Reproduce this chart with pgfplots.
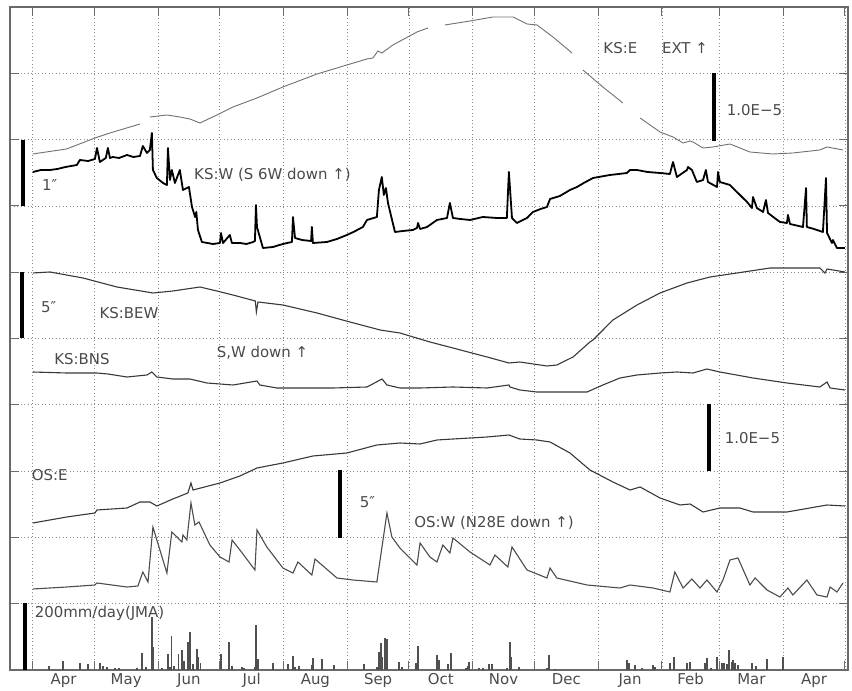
\documentclass[border=0pt]{standalone}
\usepackage{pgfplots}
\pgfplotsset{compat=1.18}
\usepackage{fontspec}
\setmainfont{DejaVu Sans}
\definecolor{txt}{HTML}{4A4A4A}
\definecolor{frame}{HTML}{6A6A6A}
\definecolor{gridc}{HTML}{8A8A8A}
\definecolor{kse}{HTML}{707070}
\definecolor{dk}{HTML}{383838}
\definecolor{osw}{HTML}{4C4C4C}
\definecolor{rain}{HTML}{505050}
\tikzset{lab/.style={anchor=west, inner sep=1bp, text=txt, font=\fontsize{15}{17}\selectfont}}

\begin{document}
\begin{tikzpicture}
% x: days since 1 Apr; y: trace offset (one grid division = 66.3)
\begin{axis}[
  scale only axis,
  width=838bp, height=663bp,
  xmin=-11, xmax=396.5,
  ymin=0, ymax=663,
  axis line style={frame, line width=1.3bp},
  xtick={0,30,61,91,122,153,183,214,244,275,306,334,365,395},
  xticklabels={},
  ytick={0,66.3,132.6,198.9,265.2,331.5,397.8,464.1,530.4,596.7,663},
  yticklabels={},
  major tick length=9bp,
  tick style={frame, line width=1bp},
  grid=major,
  major grid style={gridc, line width=0.7bp, dash pattern=on 0.9bp off 2.6bp},
  extra x ticks={15,45.5,76,106.5,137.5,168,198.5,229,259.5,290.5,320,349.5,380},
  extra x tick labels={Apr,May,Jun,Jul,Aug,Sep,Oct,Nov,Dec,Jan,Feb,Mar,Apr},
  extra x tick style={grid=none, major tick length=0pt,
    tick label style={font=\fontsize{15}{17}\selectfont, text=txt}},
  unbounded coords=jump,
  clip=false,
]
\coordinate (bl) at (rel axis cs:0,0);
\coordinate (tr) at (rel axis cs:1,1);

% KS:E (EXT)
\addplot[kse, line width=0.9bp] coordinates {
(0,516) (16.5,521) (30.3,532) (37.6,537) (52.2,546) (53.5,nan)
(57.0,553) (65.3,555) (71.6,553) (76.5,551) (81.4,547) (89.6,555)
(97.4,563) (109.1,572) (121.7,583) (138.3,596) (152.8,605) (162.6,611)
(165.5,612) (167.9,619) (169.8,617) (175.2,625) (186.9,638) (192.2,642) (196,nan)
(200.5,645) (212.7,649) (223.9,653) (233.6,653) (240.4,646) (245.3,645)
(253.0,633) (262.3,617) (265,nan)
(267.6,600) (277.3,583) (287.0,567) (290,nan)
(295.4,552) (305.1,538) (311.4,533) (316.3,527) (319.7,529) (321.1,528)
(326.0,522) (330.8,523) (339.1,526) (348.8,518) (360.0,516) (369.7,517)
(382.8,520) (386.3,523) (394.1,520)
};

% KS:W
\addplot[black, line width=1.8bp, line join=round] coordinates {
(0.1,498) (4,500) (8.4,500) (12,501) (16,503) (21.5,505) (23.0,510) (27,509) (30.3,511) (31.3,522) (32.7,508)
(35.6,512) (36.6,522) (37.6,512) (39.0,513) (42,512) (45.9,515) (49,513) (52.2,514) (53.6,524)
(55.6,517) (57.0,520) (58.0,537) (58.5,500) (60.4,492) (63.4,487) (65.3,485)
(65.8,522) (66.8,490) (67.7,500) (69.2,487) (71.6,500) (73.1,480) (76.0,483)
(77.5,463) (79.0,453) (79.6,458) (80.4,440) (82.3,428) (85,427) (87.7,426) (91.1,427)
(91.6,437) (92.6,427) (95.9,435) (96.9,427) (100.8,427) (104,426) (107.2,428) (108.1,429)
(108.6,465) (109.1,443) (112.0,422) (116.9,423) (120,425) (123.7,427) (126.1,428)
(126.6,453) (127.6,432) (131,430) (135.4,429) (135.8,443) (136.3,427) (143.1,428)
(148,431) (152.8,435) (156,438) (160.6,443) (162.6,450) (167.4,453) (168.4,480) (169.8,493)
(170.8,475) (171.8,482) (172.8,467) (176.2,438) (180,439) (184.9,440) (186.9,442)
(187.4,447) (188.4,441) (191.8,443) (196.6,450) (201.5,452) (202.9,467)
(204.4,452) (208,451) (212.7,450) (218.9,453) (225.8,452) (230.6,452) (231.6,498)
(233.1,452) (235.5,447) (240.4,452) (243.3,458) (247,461) (250.1,463) (251.6,471)
(256.4,474) (261.3,480) (264.7,483) (268,487) (272.5,492) (280.7,495) (285,496) (289.0,497)
(290.5,500) (293.9,500) (299,498) (305.1,497) (309.9,496) (311.4,508) (313.3,493)
(318.2,500) (318.7,503) (320.6,500) (323.0,488) (326.0,490) (327.4,500)
(328.4,488) (332.8,483) (333.3,498) (334.2,488) (339.1,485) (342.5,478)
(347.4,468) (349.8,462) (350.3,473) (352.2,462) (355.2,458) (356.6,470)
(357.6,457) (363.4,448) (366.8,447) (367.3,455) (368.3,446) (374.6,443)
(376.1,482) (376.5,443) (380,441) (384.3,438) (385.8,492) (386.3,437) (388.7,427)
(389.2,430) (391.1,422) (395.0,422)
};

% KS:BEW
\addplot[dk, line width=1.1bp] coordinates {
(0.1,397) (8.4,398) (24.5,392) (41.0,383) (58.5,377) (68.2,379) (81.4,383)
(89.6,379) (97.4,375) (108.3,369) (108.8,358) (109.6,368) (121.7,365)
(138.3,357) (154.3,348) (169.0,340) (178.6,337) (193.2,328) (204.4,322)
(221.0,313) (231.6,307) (236.9,308) (250.1,304) (254.9,305) (262.8,313)
(271.0,328) (272.5,330) (282.2,350) (293.9,365) (305.1,377) (318.2,387)
(329.4,393) (342.5,397) (358.6,402) (366.8,402) (382.8,402) (385.3,397)
(386.3,401) (395.0,398)
};

% KS:BNS
\addplot[dk, line width=1.1bp] coordinates {
(0.1,298) (16.6,297) (31.3,297) (36.6,296) (45.9,293) (55.6,295) (58.0,298)
(60.4,293) (68.2,291) (76.5,291) (84.8,287) (97.4,285) (109.1,289) (110.5,285)
(118.8,282) (130.0,282) (146.1,282) (162.6,283) (169.9,291) (172.3,285)
(178.6,282) (188.4,282) (204.4,283) (221.0,282) (231.6,285) (232.1,283)
(236.9,280) (245.2,278) (261.3,278) (269.6,278) (277.3,285) (285.6,292)
(293.9,295) (305.1,297) (313.3,298) (321.1,297) (327.9,301) (334.2,298)
(350.3,292) (366.8,287) (382.8,283) (386.3,288) (387.8,282) (395.0,280)
};

% OS:E
\addplot[dk, line width=1.1bp] coordinates {
(0.1,147) (16.6,153) (30.3,157) (31.3,160) (45.9,162) (52.2,168) (57.0,168)
(60.4,164) (68.2,171) (75.5,177) (77.0,187) (78.0,180) (91.1,187) (100.8,194)
(109.1,202) (121.7,207) (136.3,214) (152.8,217) (167.4,225) (178.6,227)
(188.4,226) (196.6,230) (204.4,231) (221.0,233) (231.6,235) (236.9,231)
(245.2,230) (251.6,228) (261.3,217) (271.0,200) (282.2,188) (290.5,180)
(295.4,183) (305.1,172) (314.8,165) (319.7,166) (326.0,158) (334.2,162)
(343.9,162) (350.3,158) (366.8,158) (386.3,165) (395.0,164)
};

% OS:W
\addplot[osw, line width=1.1bp] coordinates {
(0.1,81) (16.6,83) (30.3,85) (31.3,87) (45.9,83) (51.2,84) (53.6,98) (56.1,88)
(58.5,143) (65.3,97) (67.7,138) (70.2,133) (72.6,128) (73.1,135) (75.0,130)
(77.0,167) (78.9,145) (80.9,148) (86.2,125) (91.1,113) (95.5,108) (97.0,130)
(100.8,120) (108.1,100) (109.1,140) (113.9,123) (121.7,102) (126.6,97)
(129.0,108) (135.8,95) (137.3,111) (148.0,92) (155.8,90) (167.4,88)
(172.3,157) (174.7,133) (178.6,122) (186.9,105) (188.4,127) (193.2,113)
(196.6,108) (199.5,125) (202.9,117) (204.4,132) (212.7,118) (222.4,105)
(224.8,115) (231.1,103) (233.1,123) (240.4,100) (250.1,92) (251.6,102)
(254.9,92) (269.6,85) (285.6,82) (290.5,85) (301.7,82) (309.9,78) (312.3,98)
(316.3,82) (320.6,91) (324.5,82) (327.9,90) (332.8,78) (335.7,90) (339.1,110)
(343.0,112) (348.8,85) (351.3,92) (357.1,80) (363.4,73) (367.3,82) (369.7,75)
(376.5,90) (381.4,75) (386.3,73) (387.8,83) (391.1,78) (394.1,87)
};

% daily rainfall (JMA)
\addplot[rain, ycomb, line width=1.3bp] coordinates {
(7.9,4) (14.7,9) (23.0,7) (26.9,6) (32.7,7) (34.2,4) (36.1,3) (40.0,2) (42.0,2)
(50.7,2) (53.2,17) (55.1,3) (58.0,53) (58.6,23) (62.9,2) (65.8,16) (66.8,3)
(67.7,34) (68.7,4) (71.1,16) (72.6,20) (73.6,9) (75.5,28) (76.5,38) (78.0,6)
(79.9,21) (80.5,13) (81.8,7) (91.6,16) (95.5,28) (96.9,4) (101.8,3) (102.8,2)
(108.1,3) (108.6,45) (109.6,11) (116.9,7) (124.2,6) (126.6,14) (127.6,3)
(129.5,4) (135.8,5) (136.3,12) (140.7,11) (146.5,5) (161.1,6) (167.4,3)
(168.4,18) (169.4,27) (170.3,13) (171.3,32) (172.3,31) (178.1,8) (179.6,3)
(186.4,7) (187.4,24) (196.6,15) (197.6,10) (202.0,6) (203.4,17) (210.7,2)
(211.7,4) (212.2,8) (217.0,2) (219.0,2) (221.9,6) (223.4,6) (230.7,2)
(232.1,28) (232.6,13) (236.5,3) (250.1,2) (251.1,15) (254.0,1)
(289.0,10) (290.0,7) (292.9,5) (296.3,2) (301.7,5) (302.6,3) (309.9,7)
(311.9,13) (318.2,7) (319.6,8) (326.9,7) (327.9,12) (329.9,2) (332.8,13)
(335.2,7) (336.2,7) (337.6,6) (338.6,20) (340.1,8) (340.6,10) (341.5,7)
(343.0,5) (349.8,7) (351.7,4) (357.1,11) (364.9,13)
};

% scale bars
\addplot[black, line width=4bp] coordinates {(-4.7,464) (-4.7,530)};
\addplot[black, line width=4bp] coordinates {(-5.0,332) (-5.0,398)};
\addplot[black, line width=4bp] coordinates {(-3.7,0) (-3.7,67)};
\addplot[black, line width=4bp] coordinates {(331.3,529) (331.3,597)};
\addplot[black, line width=4bp] coordinates {(328.9,199) (328.9,266)};
\addplot[black, line width=4bp] coordinates {(149.4,132) (149.4,200)};

% labels
\node[lab] at (axis cs:277.0,622) {KS:E};
\node[lab] at (axis cs:305.5,622) {EXT ↑};
\node[lab] at (axis cs:337.0,560) {1.0E−5};
\node[lab] at (axis cs:4.0,485) {1″};
\node[lab] at (axis cs:78.0,495) {KS:W (S 6W down ↑)};
\node[lab] at (axis cs:3.5,363) {5″};
\node[lab] at (axis cs:32.0,357) {KS:BEW};
\node[lab] at (axis cs:89.0,317) {S,W down ↑};
\node[lab] at (axis cs:10.0,311) {KS:BNS};
\node[lab] at (axis cs:336.0,232) {1.0E−5};
\node[lab] at (axis cs:-1.0,195) {OS:E};
\node[lab] at (axis cs:158.5,168) {5″};
\node[lab] at (axis cs:185.0,147) {OS:W (N28E down ↑)};
\node[lab] at (axis cs:0.5,57) {200mm/day(JMA)};
\end{axis}
\pgfresetboundingbox
\path[use as bounding box] ([shift={(-10bp,-21bp)}]bl) rectangle ([shift={(4bp,7bp)}]tr);
\end{tikzpicture}
\end{document}
